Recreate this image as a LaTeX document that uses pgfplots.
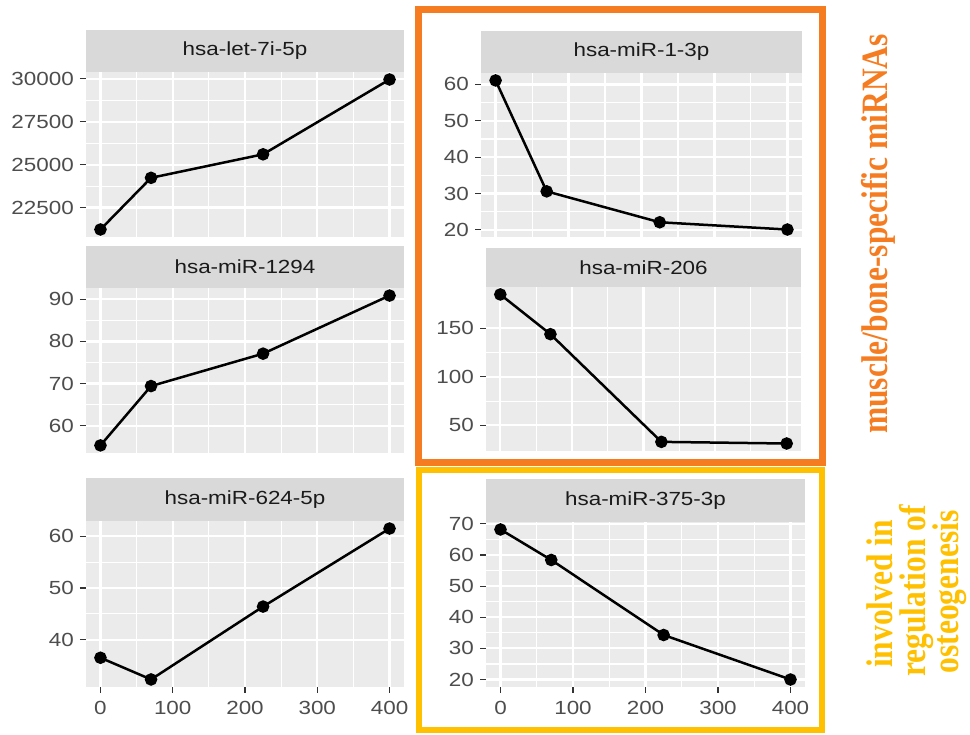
\documentclass[border=0pt]{standalone}
\usepackage{pgfplots}
\pgfplotsset{compat=1.18}
\usepackage{fontspec}
\setmainfont{Liberation Sans}
\newfontfamily\tnr{Liberation Serif}
\definecolor{panelbg}{HTML}{EBEBEB}
\definecolor{stripbg}{HTML}{D9D9D9}
\definecolor{labc}{HTML}{4D4D4D}
\definecolor{tickc}{HTML}{333333}
\definecolor{stripc}{HTML}{1A1A1A}
\definecolor{orangec}{HTML}{F57C20}
\definecolor{yellowc}{HTML}{FFC000}
\newcommand{\tickfont}{\fontsize{19}{19}\selectfont}
\pgfplotsset{
  gg/.style={
    scale only axis, anchor=south west,
    xmin=-20, xmax=420,
    xtick={0,100,200,300,400},
    minor x tick num=1, minor y tick num=1,
    grid=both,
    major grid style={white, line width=2.2pt},
    minor grid style={white, line width=1.1pt},
    axis background/.style={fill=panelbg},
    axis line style={draw=none},
    tick align=outside,
    major tick length=6pt, minor tick length=0pt,
    tick style={color=tickc, line width=1.2pt},
    every tick label/.append style={font=\tickfont, text=labc},
    yticklabel style={inner sep=0pt, xshift=-6pt},
    xticklabel style={inner sep=0pt, yshift=-8pt},
    yticklabel={\scalebox{1.18}[1]{\pgfmathprintnumber{\tick}}},
    xticklabel={\scalebox{1.18}[1]{\pgfmathprintnumber{\tick}}},
    scaled y ticks=false, scaled x ticks=false,
    /pgf/number format/1000 sep={},
    /pgf/number format/assume math mode=true,
    ytick pos=left, xtick pos=bottom,
  },
  top/.style={xticklabels={,,,,}, xtick style={draw=none}},
  ser/.style={black, line width=2.5pt, mark=*, mark size=5pt},
}
\newcommand{\strip}[5]{%
  \fill[stripbg] (#1,#3) rectangle (#2,#4);
  \node[font=\tickfont, text=stripc] at ({(#1+#2)/2},{(#3+#4)/2}) {\scalebox{1.18}[1]{#5}};
}
\begin{document}
\begin{tikzpicture}[x=1pt,y=1pt]
\fill[white] (0,0) rectangle (970,735);

% A: hsa-let-7i-5p
\begin{axis}[gg, top, at={(86pt,498pt)}, width=318pt, height=165pt,
  ymin=20783, ymax=30397, ytick={22500,25000,27500,30000}]
\addplot[ser] coordinates {(0,21220) (70,24230) (225,25600) (400,29960)};
\end{axis}
\strip{86}{404}{663}{705}{hsa-let-7i-5p}

% B: hsa-miR-1294
\begin{axis}[gg, top, at={(86pt,282pt)}, width=318pt, height=165pt,
  ymin=53.5, ymax=92.7, ytick={60,70,80,90}]
\addplot[ser] coordinates {(0,55.3) (70,69.4) (225,77.1) (400,90.9)};
\end{axis}
\strip{86}{404}{447}{489}{hsa-miR-1294}

% C: hsa-miR-624-5p
\begin{axis}[gg, at={(86pt,48pt)}, width=318pt, height=166pt,
  ymin=30.84, ymax=62.96, ytick={40,50,60}]
\addplot[ser] coordinates {(0,36.5) (70,32.3) (225,46.4) (400,61.5)};
\end{axis}
\strip{86}{404}{214}{257}{hsa-miR-624-5p}

% D: hsa-miR-1-3p
\begin{axis}[gg, top, at={(481pt,498pt)}, width=321pt, height=164pt,
  ymin=18.05, ymax=63.15, ytick={20,30,40,50,60}]
\addplot[ser] coordinates {(0,61.1) (70,30.6) (225,22.1) (400,20.1)};
\end{axis}
\strip{481}{802}{662}{704}{hsa-miR-1-3p}

% E: hsa-miR-206
\begin{axis}[gg, top, at={(486pt,284pt)}, width=315pt, height=164pt,
  ymin=23.6, ymax=192.5, ytick={50,100,150}]
\addplot[ser] coordinates {(0,184.8) (70,143.9) (225,33.0) (400,31.3)};
\end{axis}
\strip{486}{801}{448}{487}{hsa-miR-206}

% F: hsa-miR-375-3p
\begin{axis}[gg, at={(486pt,48pt)}, width=319pt, height=165pt,
  ymin=17.6, ymax=70.6, ytick={20,30,40,50,60,70}]
\addplot[ser] coordinates {(0,68.2) (70,58.4) (225,34.3) (400,20.0)};
\end{axis}
\strip{486}{805}{213}{256}{hsa-miR-375-3p}

% group boxes
\draw[orangec, line width=7pt] (418.5,725) rectangle (822,272);
\draw[yellowc, line width=6pt] (418.5,264.5) rectangle (822,4.5);

% side labels
\node[rotate=90, anchor=base, text=orangec, font=\fontsize{31.5}{31.5}\selectfont\tnr\bfseries]
  at (887,501) {\scalebox{1}[1.18]{muscle/bone-specific miRNAs}};
\node[rotate=90, anchor=base, text=yellowc, font=\fontsize{31.5}{31.5}\selectfont\tnr\bfseries]
  at (892,141) {\scalebox{1}[1.18]{involved in}};
\node[rotate=90, anchor=base, text=yellowc, font=\fontsize{31.5}{31.5}\selectfont\tnr\bfseries]
  at (925,144) {\scalebox{1}[1.18]{regulation of}};
\node[rotate=90, anchor=base, text=yellowc, font=\fontsize{31.5}{31.5}\selectfont\tnr\bfseries]
  at (958,143) {\scalebox{1}[1.18]{osteogenesis}};

\pgfresetboundingbox
\path (0,0) rectangle (970,735);
\end{tikzpicture}
\end{document}
